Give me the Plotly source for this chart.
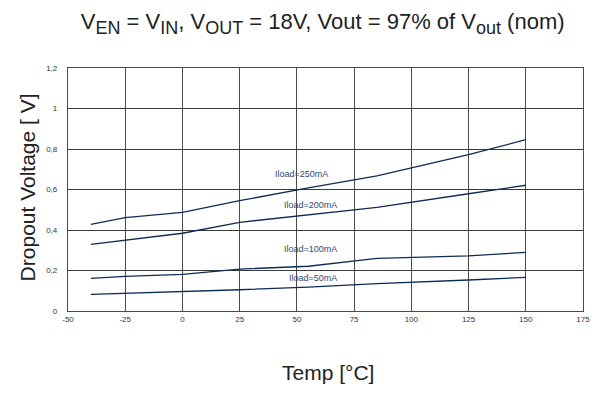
import plotly.graph_objects as go

# Junction temperature points (°C)
temps = [-40, -25, 0, 25, 55, 85, 125, 150]

# Dropout voltage (V) per load current
iload_250 = [0.428, 0.461, 0.487, 0.545, 0.608, 0.667, 0.772, 0.846]
iload_200 = [0.329, 0.349, 0.384, 0.438, 0.475, 0.512, 0.579, 0.621]
iload_100 = [0.161, 0.171, 0.181, 0.207, 0.221, 0.260, 0.272, 0.290]
iload_50 = [0.082, 0.087, 0.094, 0.105, 0.118, 0.135, 0.153, 0.166]

series_names = ["Iload=250mA", "Iload=200mA", "Iload=100mA", "Iload=50mA"]
series_values = [iload_250, iload_200, iload_100, iload_50]

# Label anchor positions (data coordinates) for each curve
label_x = [52, 56, 56, 57]
label_y = [0.675, 0.523, 0.305, 0.163]

x_ticks = [-50, -25, 0, 25, 50, 75, 100, 125, 150, 175]
y_ticks = [0, 0.2, 0.4, 0.6, 0.8, 1.0, 1.2]

line_color = "#0d2b57"
label_color = "#34496b"
font_family = "Liberation Sans, Arial, sans-serif"


def sub(txt):
    # subscript kept close to body size
    return '<sub><span style="font-size:18px">' + txt + '</span></sub>'


title_text = ("V" + sub("EN") + " = V" + sub("IN") + ", V" + sub("OUT")
              + " = 18V, Vout = 97% of V" + sub("out") + " (nom)")

fig = go.Figure()
for name, vals in zip(series_names, series_values):
    fig.add_trace(go.Scatter(
        x=temps, y=vals, mode="lines", name=name,
        line=dict(color=line_color, width=1.3),
        showlegend=False,
    ))

annotations = []
for name, lx, ly in zip(series_names, label_x, label_y):
    annotations.append(dict(
        x=lx, y=ly, xref="x", yref="y", text=name, showarrow=False,
        font=dict(family=font_family, size=9, color=label_color),
        xanchor="center", yanchor="middle",
    ))

annotations.append(dict(
    x=0.504, y=-0.255, xref="paper", yref="paper", text="Temp [°C]",
    showarrow=False, xanchor="center", yanchor="middle",
    font=dict(family=font_family, size=21, color="#222222"),
))
annotations.append(dict(
    x=-0.078, y=0.508, xref="paper", yref="paper", text="Dropout Voltage [ V]",
    showarrow=False, xanchor="center", yanchor="middle", textangle=-90,
    font=dict(family=font_family, size=21, color="#222222"),
))

fig.update_layout(
    width=602, height=394,
    margin=dict(l=67.5, r=16, t=68, b=83),
    paper_bgcolor="white", plot_bgcolor="white",
    separators=",.",
    title=dict(
        text=title_text,
        x=0.536, xref="container", xanchor="center",
        y=0.945, yref="container", yanchor="middle",
        font=dict(family=font_family, size=22, color="#222222"),
    ),
    annotations=annotations,
    xaxis=dict(
        range=[-50, 175], tickvals=x_ticks, ticktext=[str(v) for v in x_ticks],
        showgrid=True, gridcolor="#4a4a4a", gridwidth=1.2,
        showline=True, linecolor="#4a4a4a", linewidth=1.2, mirror=True,
        ticks="", zeroline=False,
        tickfont=dict(family=font_family, size=8, color="#333333"),
    ),
    yaxis=dict(
        range=[0, 1.2], tickvals=y_ticks,
        ticktext=["0", "0,2", "0,4", "0,6", "0,8", "1", "1,2"],
        showgrid=True, gridcolor="#3a3a3a", gridwidth=1.2,
        showline=True, linecolor="#4a4a4a", linewidth=1.2, mirror=True,
        ticks="", zeroline=False, ticklabelstandoff=8,
        tickfont=dict(family=font_family, size=8, color="#333333"),
    ),
)

fig.write_html("out.html")
